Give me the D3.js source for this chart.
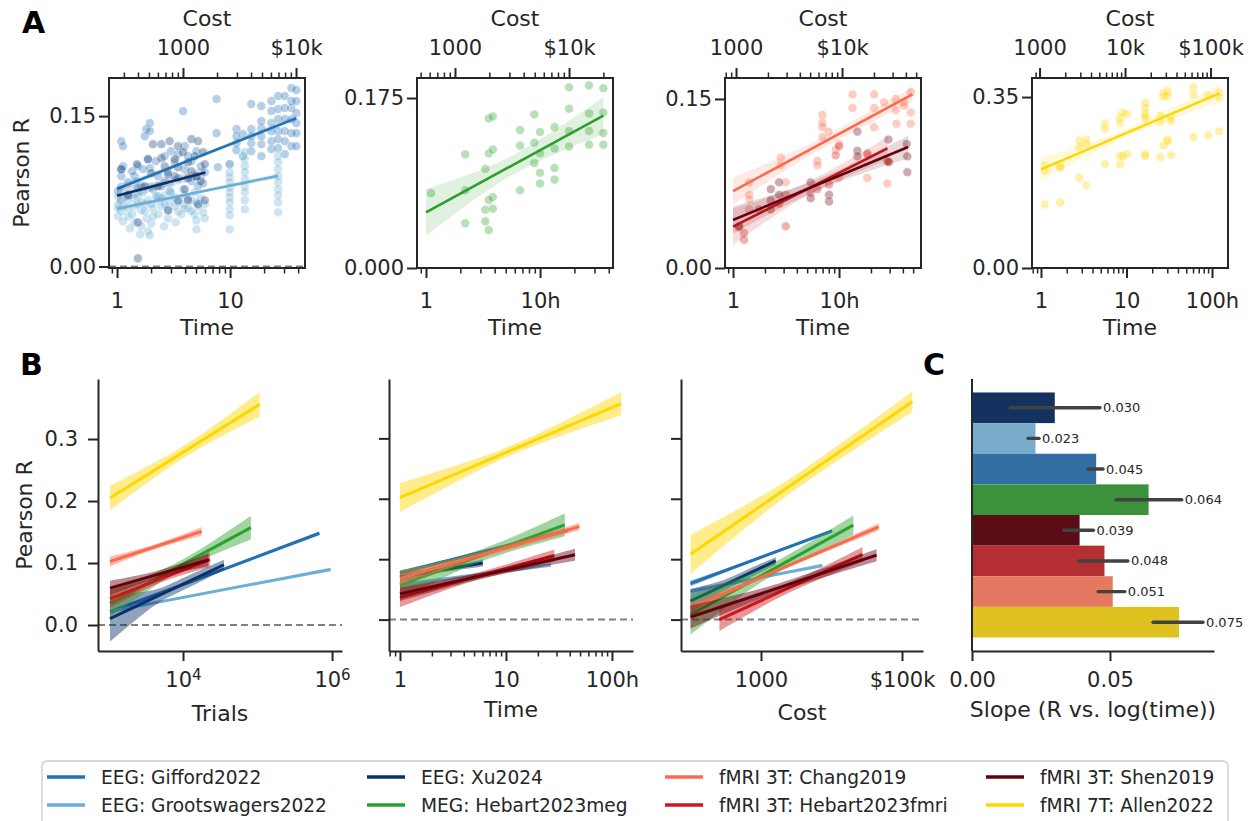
<!DOCTYPE html>
<html>
<head>
<meta charset="utf-8">
<script src="https://cdn.jsdelivr.net/npm/d3@7"></script>
<style>
  body { margin: 0; background: #fff; }
  text { font-family: "DejaVu Sans", sans-serif; }
</style>
</head>
<body>
<svg id="fig" width="1254" height="821"></svg>
<script>
// ---------- data ----------
const names = ["EEG: Gifford2022", "EEG: Grootswagers2022", "EEG: Xu2024", "MEG: Hebart2023meg",
               "fMRI 3T: Chang2019", "fMRI 3T: Hebart2023fmri", "fMRI 3T: Shen2019", "fMRI 7T: Allen2022"];
const colors = ["#2171b5", "#6baed6", "#08306b", "#2ca02c", "#fb6a4a", "#cb181d", "#67000d", "#ffd700"];

// scatter points: [hours, pearson R]
const ptsGifford = [[7.6,0.167],[7.6,0.133],[11.4,0.137],[11.4,0.123],[15.4,0.162],[15.4,0.137],[15.4,0.123],
  [18.9,0.160],[18.9,0.138],[18.9,0.122],[18.9,0.110],[23.2,0.165],[23.2,0.155],[23.2,0.143],[23.2,0.125],
  [23.2,0.117],[26.6,0.170],[26.6,0.147],[26.6,0.135],[26.6,0.127],[30.5,0.170],[30.5,0.147],[30.5,0.112],
  [34.9,0.178],[34.9,0.158],[34.9,0.147],[34.9,0.133],[34.9,0.120],[38.6,0.176],[38.6,0.153],[38.6,0.133],
  [38.6,0.120],[13.0,0.132],[13.0,0.110],[9.9,0.102],[7.8,0.099],[11.4,0.130],[11.4,0.116],[15.4,0.130],
  [15.4,0.115],[18.9,0.130],[18.9,0.145],[23.2,0.135],[26.6,0.157],[26.6,0.118],[30.5,0.158],[30.5,0.135],
  [30.5,0.125],[34.9,0.165],[38.6,0.165],[38.6,0.143],
  [1.09,0.125],[1.13,0.120],[1.09,0.097],[1.09,0.090],[1.25,0.084],[1.43,0.090],[1.64,0.080],[1.70,0.097],
  [1.82,0.137],[1.76,0.130],[1.95,0.135],[1.95,0.143],[1.88,0.107],[2.31,0.090],[2.47,0.080],[2.83,0.094],
  [3.24,0.104],[3.84,0.155],[3.97,0.097],[4.25,0.110],[5.04,0.090],[5.97,0.094],[1.02,0.075],[1.25,0.072],
  [1.53,0.078],[2.08,0.077],[2.64,0.085],[3.47,0.088],[4.55,0.085],[5.21,0.080],[5.77,0.083],
  [1.13,0.100],[1.36,0.095],[1.53,0.100],[1.95,0.098],[2.2,0.105],[2.64,0.110],[3.0,0.115],[3.47,0.112],
  [3.97,0.120],[4.55,0.105],[5.04,0.115],[5.5,0.100],[2.31,0.070],[2.92,0.075]];
const ptsGrootswagers = [[9.93,0.102],[9.93,0.094],[9.93,0.089],[9.93,0.084],[9.93,0.079],[9.93,0.074],
  [9.93,0.069],[9.93,0.064],[9.93,0.057],[9.93,0.051],[9.93,0.037],[13.5,0.114],[13.5,0.107],[13.5,0.100],
  [13.5,0.094],[13.5,0.087],[13.5,0.080],[13.5,0.074],[13.5,0.066],[13.5,0.057],[26.6,0.110],[26.6,0.104],
  [26.6,0.097],[26.6,0.090],[26.6,0.084],[26.6,0.077],[26.6,0.071],[26.6,0.064],[26.6,0.054],
  [1.02,0.070],[1.02,0.062],[1.02,0.050],[1.09,0.055],[1.13,0.045],[1.25,0.066],[1.25,0.050],[1.43,0.060],
  [1.43,0.044],[1.53,0.070],[1.64,0.056],[1.64,0.040],[1.76,0.062],[1.82,0.048],[1.88,0.035],[1.95,0.031],
  [2.01,0.043],[2.08,0.058],[2.31,0.066],[2.31,0.052],[2.47,0.060],[2.64,0.071],[2.83,0.056],[2.92,0.064],
  [3.24,0.069],[3.47,0.055],[3.84,0.062],[3.97,0.071],[4.25,0.058],[4.55,0.066],[4.87,0.052],[5.04,0.046],
  [5.04,0.037],[5.21,0.060],[5.77,0.054],[5.97,0.062],[1.48,0.085],[2.01,0.079],[2.92,0.082],[3.84,0.077],
  [4.87,0.074],[1.09,0.080],[1.70,0.074],
  [1.02,0.058],[1.09,0.066],[1.13,0.060],[1.25,0.058],[1.36,0.052],[1.43,0.068],[1.53,0.062],[1.64,0.064],
  [1.76,0.055],[1.88,0.066],[2.01,0.062],[2.08,0.050],[2.2,0.070],[2.47,0.068],[2.64,0.062],[2.83,0.048],
  [3.0,0.074],[3.24,0.060],[3.47,0.064],[3.7,0.052],[3.97,0.058],[4.25,0.068],[4.55,0.055],[5.04,0.064],
  [5.5,0.068],[5.97,0.048],[1.30,0.038],[1.6,0.032],[2.6,0.040],[3.3,0.044]];
const ptsXu = [[2.08,0.122],[2.47,0.122],[2.92,0.125],[3.47,0.120],[4.55,0.127],[5.21,0.125],[3.84,0.114],
  [4.87,0.110],[5.97,0.102],[5.77,0.114],[4.25,0.104],[3.24,0.107],[2.64,0.100],[2.47,0.108],[1.88,0.107],
  [3.47,0.066],[4.25,0.066],[5.21,0.062],[5.97,0.066],[2.83,0.056],[3.97,0.077],[1.53,0.044],[1.53,0.008],
  [5.04,0.090],[3.24,0.090],[2.31,0.080],[1.76,0.080],[1.25,0.071],[4.55,0.095],[2.83,0.092],[3.47,0.099],
  [4.25,0.088],[5.50,0.085],[1.09,0.097],[2.01,0.093],[1.50,0.102]];
const ptsMeg = [[1.106,0.077],[2.21,0.117],[2.21,0.080],[2.21,0.046],[3.31,0.102],[3.55,0.118],[3.85,0.122],
  [3.55,0.154],[3.85,0.156],[3.31,0.060],[3.31,0.048],[3.55,0.039],[3.85,0.073],[3.55,0.070],[3.85,0.061],
  [6.68,0.142],[6.68,0.126],[6.68,0.080],[8.91,0.158],[8.91,0.129],[8.91,0.108],[10,0.140],[10,0.118],
  [10,0.098],[10,0.087],[13.4,0.145],[13.4,0.123],[13.4,0.103],[13.4,0.091],[17.96,0.186],[17.96,0.164],
  [17.96,0.141],[17.96,0.125],[26.9,0.188],[26.9,0.159],[26.9,0.141],[26.9,0.127],[35.9,0.185],[35.9,0.160],
  [35.9,0.139],[35.9,0.127]];
const ptsChang = [[13.4,0.154],[21.4,0.154],[13.4,0.142],[21.4,0.142],[26.6,0.147],[34.2,0.150],[41.0,0.147],
  [41.0,0.144],[47.4,0.156],[47.4,0.138],[47.4,0.128],[34.2,0.140],[34.8,0.128],[21.4,0.125],[6.97,0.136],
  [6.97,0.129],[6.97,0.125],[7.93,0.121],[6.97,0.116],[10.0,0.110],[9.3,0.105],[2.82,0.098],[2.82,0.091],
  [1.42,0.076],[1.42,0.065],[1.42,0.061],[1.42,0.052],[3.14,0.076],[6.25,0.095],[6.25,0.091],[18.5,0.102],
  [18.5,0.080],[28.6,0.094],[28.6,0.075],[10.0,0.080]];
const ptsHebartFmri = [[1.27,0.031],[1.27,0.025],[1.14,0.036],[2.72,0.057],[3.14,0.065],[5.40,0.067],
  [8.05,0.074],[9.3,0.100],[10.0,0.108],[18.5,0.101],[28.6,0.095],[3.14,0.037],[6.25,0.070],[1.76,0.052]];
const ptsShen = [[14.9,0.121],[29.2,0.114],[43.5,0.110],[44.1,0.099],[44.1,0.085],[14.9,0.104],[14.9,0.099],
  [8.05,0.065],[8.05,0.059],[5.40,0.076],[5.40,0.062],[2.72,0.076],[2.27,0.070],[2.72,0.065],[2.27,0.052],
  [2.27,0.060],[29.6,0.094],[1.14,0.037]];
const ptsAllen = [[1.11,0.210],[1.11,0.199],[1.11,0.130],[1.68,0.209],[1.68,0.205],[1.68,0.134],[2.81,0.261],
  [2.81,0.248],[2.81,0.185],[3.39,0.263],[3.39,0.254],[3.39,0.169],[5.6,0.296],[5.6,0.285],[5.6,0.213],
  [8.39,0.308],[8.39,0.297],[8.39,0.212],[8.39,0.229],[9.02,0.318],[9.02,0.229],[10.1,0.315],[10.1,0.233],
  [16.6,0.338],[16.6,0.328],[16.6,0.317],[16.6,0.311],[16.6,0.306],[16.6,0.233],[16.6,0.229],[24.9,0.312],
  [24.9,0.299],[24.9,0.227],[27.0,0.358],[27.0,0.351],[27.0,0.251],[30.3,0.362],[30.3,0.352],[30.3,0.263],
  [30.3,0.259],[33.1,0.308],[33.1,0.301],[33.1,0.231],[60.5,0.370],[60.5,0.355],[60.5,0.268],[90.6,0.353],
  [90.6,0.272],[122,0.359],[122,0.349],[122,0.280]];
const points = [ptsGifford, ptsGrootswagers, ptsXu, ptsMeg, ptsChang, ptsHebartFmri, ptsShen, ptsAllen];

// regression fits: [x start, x end, R start, R end, ci start, ci middle, ci end]
const fitsTime = [[1,38.6,0.0775,0.148,0.004,0.002,0.003],[1,26.6,0.0576,0.0904,0.003,0.0015,0.003],
  [1,6.05,0.0705,0.0937,0.009,0.004,0.006],[1,35.9,0.0573,0.1568,0.024,0.010,0.019],
  [1,49.2,0.0683,0.154,0.012,0.005,0.006],[1,28.6,0.0367,0.1062,0.016,0.006,0.010],
  [1,44.8,0.0426,0.1074,0.012,0.005,0.010],[1,122,0.202,0.3575,0.024,0.008,0.019]];
const fitsTrials = [[1047,676000,0.021,0.148,0.004,0.002,0.003],[1047,955000,0.022,0.0897,0.003,0.0015,0.003],
  [1047,35500,0.0103,0.0972,0.037,0.010,0.008],[1047,81300,0.0344,0.157,0.021,0.008,0.019],
  [1047,17800,0.1025,0.151,0.008,0.004,0.007],[1047,22900,0.0425,0.1057,0.015,0.006,0.012],
  [1047,21900,0.0596,0.105,0.012,0.006,0.010],[1047,107000,0.205,0.356,0.020,0.010,0.020]];
const fitsCost = [[100,10200,0.0597,0.1469,0.005,0.002,0.003],[100,7400,0.0469,0.0895,0.004,0.002,0.003],
  [100,1620,0.0308,0.0971,0.020,0.008,0.006],[100,20400,0.0083,0.1563,0.033,0.010,0.016],
  [100,46800,0.0199,0.1535,0.007,0.003,0.006],[257,27500,0.0,0.108,0.019,0.008,0.012],
  [100,43600,0.0043,0.1066,0.019,0.007,0.010],[100,140000,0.108,0.3607,0.032,0.012,0.017]];

// panel A: which datasets, axis limits and ticks
const aSets = [[0,1,2],[3],[4,5,6],[7]];
const aTimeLimits = [[0.849,46.0],[0.834,43.6],[0.840,59.3],[0.785,153.9]];
const aRLimits = [[-0.0015,0.188],[0,0.1956],[0,0.1686],[0,0.389]];
const aCostPerHour = [261, 557, 937, 1040];
const aTimeTicks = [[1,10],[1,10],[1,10],[1,10,100]];
const aTimeTickLabels = [["1","10"],["1","10h"],["1","10h"],["1","10","100h"]];
const aCostTicks = [[1000,10000],[1000,10000],[1000,10000],[1000,10000,100000]];
const aCostTickLabels = [["1000","$10k"],["1000","$10k"],["1000","$10k"],["1000","10k","$100k"]];
const aRTicks = [[0,0.15],[0,0.175],[0,0.15],[0,0.35]];
const aRTickLabels = [["0.00","0.15"],["0.000","0.175"],["0.00","0.15"],["0.00","0.35"]];

// panel B
const bFits = [fitsTrials, fitsTime, fitsCost];
const bXLimits = [[723,1.36e6],[0.788,158],[73.3,198600]];
const bRLimits = [[-0.0419,0.3968],[-0.052,0.3983],[-0.052,0.3983]];
const bXTicks = [[1e4,1e6],[1,10,100],[1000,100000]];
const bXTickLabels = [["10^4","10^6"],["1","10","100h"],["1000","$100k"]];
const bXLabels = ["Trials","Time","Cost"];
const bRTicks = [0,0.1,0.2,0.3];
const bRTickLabels = ["0.0","0.1","0.2","0.3"];

// panel C: slope of R vs log10(time)
const barOrder = [2,1,0,3,6,5,4,7];
const slopes = [0.030,0.023,0.045,0.064,0.039,0.048,0.051,0.075];
const slopeLo = [0.0138,0.0203,0.0420,0.0522,0.0333,0.0388,0.0457,0.0656];
const slopeHi = [0.0464,0.0243,0.0475,0.0760,0.0440,0.0565,0.0554,0.0837];
const cXTicks = [0,0.05];
const cXTickLabels = ["0.00","0.05"];

// ---------- layout ----------
const INK = "#262626";
const TICK_FS = 21, LABEL_FS = 22;
const aTop = 78, aBot = 268;
const aX = [[109,305],[417,613],[725,921],[1032,1228]];
const bTop = 379, bBot = 651;
const bX = [[98,342],[389,633],[681,923]];
const bLabelY = [721,717,720];
const cX = [972,1214];

const svg = d3.select("#fig");

function minorTicks(dom, majors) {
  const out = [];
  for (let d = Math.floor(Math.log10(dom[0])); d <= Math.ceil(Math.log10(dom[1])); d++) {
    for (let k = 1; k <= 9; k++) {
      const v = k * Math.pow(10, d);
      if (v >= dom[0] && v <= dom[1] && !majors.some(m => Math.abs(m - v) < 1e-9 * v)) out.push(v);
    }
  }
  return out;
}

function styleAxis(g, size) {
  g.attr("color", INK).attr("font-family", '"DejaVu Sans", sans-serif').attr("font-size", size);
  g.selectAll("text").attr("fill", INK);
}

function bandPath(g, xs, ys, f, color, op) {
  const [x0, x1, r0, r1, c0, cm, c1] = f;
  const l0 = Math.log10(x0), l1 = Math.log10(x1), lc = (l0 + l1) / 2, half = (l1 - l0) / 2;
  const pts = d3.range(41).map(i => {
    const l = l0 + (l1 - l0) * i / 40;
    const r = r0 + (r1 - r0) * i / 40;
    const u = (l - lc) / half, ce = u < 0 ? c0 : c1;
    const hw = Math.sqrt(cm * cm + u * u * (ce * ce - cm * cm));
    return { x: Math.pow(10, l), lo: r - hw, hi: r + hw };
  });
  g.append("path").datum(pts)
    .attr("d", d3.area().x(d => xs(d.x)).y0(d => ys(d.lo)).y1(d => ys(d.hi)))
    .attr("fill", color).attr("opacity", op).attr("stroke", "none");
}

function fitLine(g, xs, ys, f, color, w) {
  g.append("path").datum([[f[0], f[2]], [f[1], f[3]]])
    .attr("d", d3.line().x(d => xs(d[0])).y(d => ys(d[1])))
    .attr("stroke", color).attr("stroke-width", w).attr("fill", "none");
}

function supLabels(g) {
  // turn "10^4" into 10 with a raised 4
  g.selectAll(".tick text").each(function() {
    const t = d3.select(this), s = t.text();
    if (s.indexOf("^") < 0) return;
    const [base, ex] = s.split("^");
    t.text(null);
    t.append("tspan").text(base);
    t.append("tspan").attr("font-size", "0.72em").attr("dy", "-0.45em").text(ex);
  });
}

// ---------- panel A ----------
aSets.forEach((sets, i) => {
  const [xl, xr] = aX[i];
  const x = d3.scaleLog().domain(aTimeLimits[i]).range([xl, xr]);
  const y = d3.scaleLinear().domain(aRLimits[i]).range([aBot, aTop]);
  const xc = d3.scaleLog().domain(aTimeLimits[i].map(t => t * aCostPerHour[i])).range([xl, xr]);
  const g = svg.append("g");

  svg.append("clipPath").attr("id", "clipA" + i)
    .append("rect").attr("x", xl).attr("y", aTop).attr("width", xr - xl).attr("height", aBot - aTop);
  const inner = g.append("g").attr("clip-path", `url(#clipA${i})`);

  inner.append("line").attr("x1", xl).attr("x2", xr).attr("y1", y(0)).attr("y2", y(0))
    .attr("stroke", "#808080").attr("stroke-width", 2).attr("stroke-dasharray", "7,4");

  sets.forEach(k => {
    inner.append("g").selectAll("circle").data(points[k]).join("circle")
      .attr("cx", d => x(d[0])).attr("cy", d => y(d[1])).attr("r", 4.6)
      .attr("fill", colors[k]).attr("stroke", "#fff").attr("stroke-width", 0.8).attr("opacity", 0.33);
  });
  sets.forEach(k => {
    bandPath(inner, x, y, fitsTime[k], colors[k], 0.15);
    fitLine(inner, x, y, fitsTime[k], colors[k], 2.6);
  });

  g.append("rect").attr("x", xl).attr("y", aTop).attr("width", xr - xl).attr("height", aBot - aTop)
    .attr("fill", "none").attr("stroke", INK).attr("stroke-width", 2);

  // bottom: time
  const bx = g.append("g").attr("transform", `translate(0,${aBot})`)
    .call(d3.axisBottom(x).tickValues(aTimeTicks[i]).tickSize(10).tickPadding(15)
      .tickFormat((d, j) => aTimeTickLabels[i][j]));
  bx.select(".domain").remove();
  bx.selectAll("line").attr("stroke-width", 2);
  styleAxis(bx, TICK_FS);
  const bm = g.append("g").attr("transform", `translate(0,${aBot})`)
    .call(d3.axisBottom(x).tickValues(minorTicks(aTimeLimits[i], aTimeTicks[i])).tickSize(5.5).tickFormat(""));
  bm.select(".domain").remove();
  bm.selectAll("line").attr("stroke-width", 1.5);
  styleAxis(bm, TICK_FS);

  // top: cost
  const costDom = xc.domain();
  const tx = g.append("g").attr("transform", `translate(0,${aTop})`)
    .call(d3.axisTop(xc).tickValues(aCostTicks[i]).tickSize(10).tickPadding(13)
      .tickFormat((d, j) => aCostTickLabels[i][j]));
  tx.select(".domain").remove();
  tx.selectAll("line").attr("stroke-width", 2);
  styleAxis(tx, TICK_FS);
  const tm = g.append("g").attr("transform", `translate(0,${aTop})`)
    .call(d3.axisTop(xc).tickValues(minorTicks(costDom, aCostTicks[i])).tickSize(5.5).tickFormat(""));
  tm.select(".domain").remove();
  tm.selectAll("line").attr("stroke-width", 1.5);
  styleAxis(tm, TICK_FS);

  // left: R
  const ly = g.append("g").attr("transform", `translate(${xl},0)`)
    .call(d3.axisLeft(y).tickValues(aRTicks[i]).tickSize(10).tickPadding(3)
      .tickFormat((d, j) => aRTickLabels[i][j]));
  ly.select(".domain").remove();
  ly.selectAll("line").attr("stroke-width", 2);
  styleAxis(ly, TICK_FS);

  const cx = (xl + xr) / 2;
  g.append("text").attr("x", cx).attr("y", 26).attr("text-anchor", "middle")
    .attr("font-size", LABEL_FS).attr("fill", INK).text("Cost");
  g.append("text").attr("x", cx).attr("y", 335).attr("text-anchor", "middle")
    .attr("font-size", LABEL_FS).attr("fill", INK).text("Time");
  if (i === 0) {
    g.append("text").attr("transform", `translate(21,${(aTop + aBot) / 2}) rotate(-90)`)
      .attr("dy", "0.35em").attr("text-anchor", "middle")
      .attr("font-size", LABEL_FS).attr("fill", INK).text("Pearson R");
  }
});

// ---------- panel B ----------
bFits.forEach((fits, j) => {
  const [xl, xr] = bX[j];
  const x = d3.scaleLog().domain(bXLimits[j]).range([xl, xr]);
  const y = d3.scaleLinear().domain(bRLimits[j]).range([bBot, bTop]);
  const g = svg.append("g");

  g.append("line").attr("x1", xl).attr("x2", xr).attr("y1", y(0)).attr("y2", y(0))
    .attr("stroke", "#808080").attr("stroke-width", 2).attr("stroke-dasharray", "7,4");

  fits.forEach((f, k) => {
    bandPath(g, x, y, f, colors[k], 0.45);
    fitLine(g, x, y, f, colors[k], 3);
  });

  const bx = g.append("g").attr("transform", `translate(0,${bBot})`)
    .call(d3.axisBottom(x).tickValues(bXTicks[j]).tickSize(10).tickSizeOuter(0).tickPadding(11)
      .tickFormat((d, n) => bXTickLabels[j][n]));
  bx.selectAll("line").attr("stroke-width", 2);
  bx.select(".domain").attr("stroke-width", 2);
  styleAxis(bx, TICK_FS);
  supLabels(bx);
  if (j === 1) {
    const bm = g.append("g").attr("transform", `translate(0,${bBot})`)
      .call(d3.axisBottom(x).tickValues(minorTicks(bXLimits[j], bXTicks[j])).tickSize(5.5).tickFormat(""));
    bm.select(".domain").remove();
    bm.selectAll("line").attr("stroke-width", 1.5);
    styleAxis(bm, TICK_FS);
  }

  const ly = g.append("g").attr("transform", `translate(${xl},0)`)
    .call(d3.axisLeft(y).tickValues(bRTicks).tickSize(10).tickSizeOuter(0).tickPadding(10)
      .tickFormat((d, n) => j === 0 ? bRTickLabels[n] : ""));
  ly.selectAll("line").attr("stroke-width", 2);
  ly.select(".domain").attr("stroke-width", 2);
  styleAxis(ly, TICK_FS);

  g.append("text").attr("x", (xl + xr) / 2).attr("y", bLabelY[j]).attr("text-anchor", "middle")
    .attr("font-size", LABEL_FS).attr("fill", INK).text(bXLabels[j]);
  if (j === 0) {
    g.append("text").attr("transform", `translate(24,${(bTop + bBot) / 2}) rotate(-90)`)
      .attr("dy", "0.35em").attr("text-anchor", "middle")
      .attr("font-size", LABEL_FS).attr("fill", INK).text("Pearson R");
  }
});

// ---------- panel C ----------
{
  const x = d3.scaleLinear().domain([0, 0.0877]).range(cX);
  const yb = d3.scaleBand().domain(d3.range(barOrder.length)).range([bTop, bBot])
    .paddingInner(0).paddingOuter(0.44);
  const g = svg.append("g");
  barOrder.forEach((k, n) => {
    const c = d3.hsl(colors[k]); c.s *= 0.75;
    g.append("rect").attr("x", x(0)).attr("y", yb(n)).attr("width", x(slopes[n]) - x(0))
      .attr("height", yb.bandwidth()).attr("fill", c.formatHex());
  });
  barOrder.forEach((k, n) => {
    const cy = yb(n) + yb.bandwidth() / 2;
    g.append("line").attr("x1", x(slopeLo[n])).attr("x2", x(slopeHi[n])).attr("y1", cy).attr("y2", cy)
      .attr("stroke", "#424242").attr("stroke-width", 3.4).attr("stroke-linecap", "round");
    g.append("text").attr("x", x(slopeHi[n]) + 3).attr("y", cy).attr("dy", "0.35em")
      .attr("font-size", 13).attr("fill", INK).text(d3.format(".3f")(slopes[n]));
  });
  const bx = g.append("g").attr("transform", `translate(0,${bBot})`)
    .call(d3.axisBottom(x).tickValues(cXTicks).tickSize(10).tickSizeOuter(0).tickPadding(11)
      .tickFormat((d, n) => cXTickLabels[n]));
  bx.selectAll("line").attr("stroke-width", 2);
  bx.select(".domain").attr("stroke-width", 2);
  styleAxis(bx, TICK_FS);
  g.append("line").attr("x1", cX[0]).attr("x2", cX[0]).attr("y1", bTop).attr("y2", bBot)
    .attr("stroke", INK).attr("stroke-width", 2);
  g.append("text").attr("x", (cX[0] + cX[1]) / 2).attr("y", 717).attr("text-anchor", "middle")
    .attr("font-size", LABEL_FS).attr("fill", INK).text("Slope (R vs. log(time))");
}

// ---------- panel letters ----------
[["A", 22, 33], ["B", 20, 375], ["C", 923, 375]].forEach(([s, px, py]) => {
  svg.append("text").attr("x", px).attr("y", py).attr("font-size", 30).attr("font-weight", "bold")
    .attr("fill", "#000").text(s);
});

// ---------- legend ----------
{
  const g = svg.append("g");
  g.append("rect").attr("x", 42).attr("y", 761).attr("width", 1186).attr("height", 72).attr("rx", 5)
    .attr("fill", "#fff").attr("stroke", "#cccccc").attr("stroke-width", 1.3);
  const colX = [47, 367, 665, 986], rowY = [777, 805];
  names.forEach((nm, k) => {
    const cxp = colX[Math.floor(k / 2)], cyp = rowY[k % 2];
    g.append("line").attr("x1", cxp).attr("x2", cxp + 38).attr("y1", cyp).attr("y2", cyp)
      .attr("stroke", colors[k]).attr("stroke-width", 3.5);
    g.append("text").attr("x", cxp + 54).attr("y", cyp).attr("dy", "0.36em")
      .attr("font-size", 18.6).attr("fill", INK).text(nm);
  });
}
</script>
</body>
</html>
